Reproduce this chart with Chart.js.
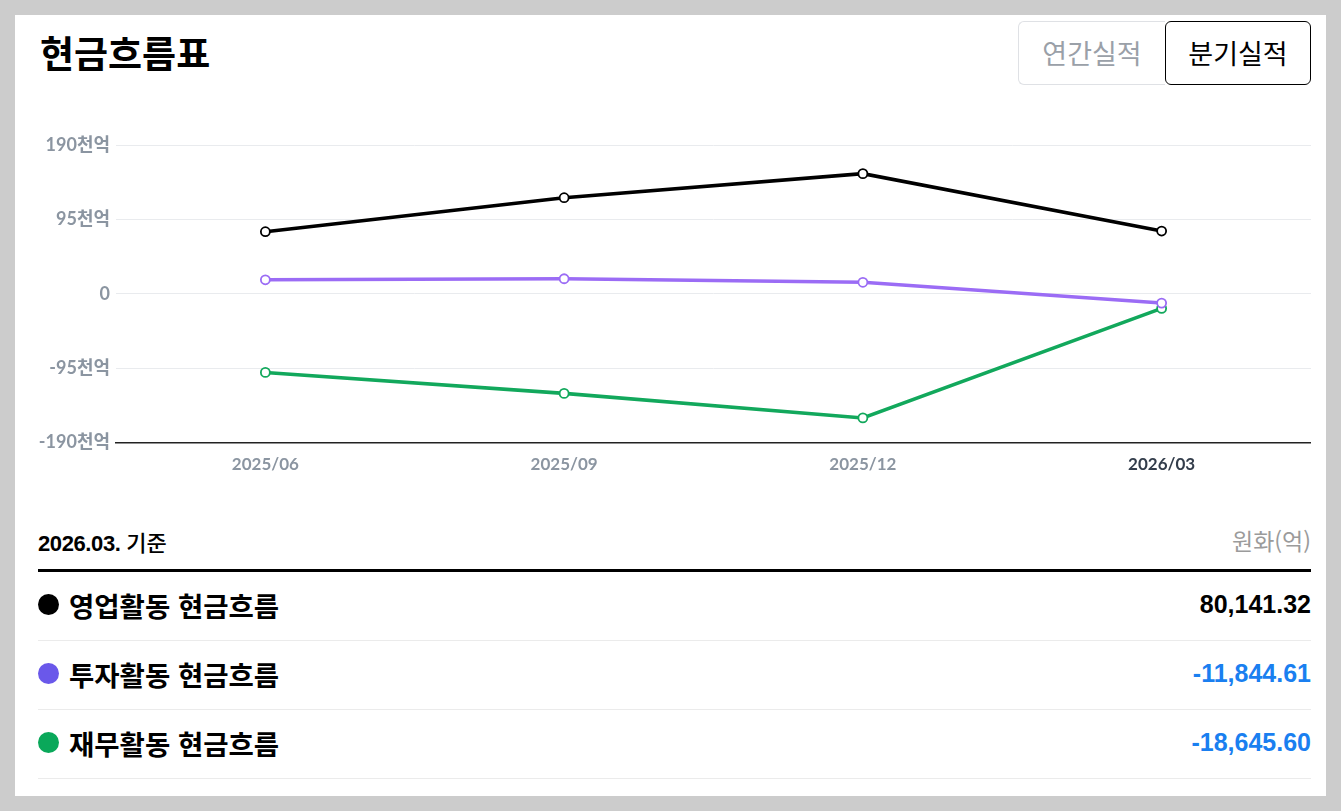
<!DOCTYPE html>
<html lang="ko">
<head>
<meta charset="utf-8">
<script src="https://cdn.jsdelivr.net/npm/chart.js@4/dist/chart.umd.min.js"></script>
<style>
  html, body { margin: 0; padding: 0; background: #cccccc; }
  body { width: 1341px; height: 811px; position: relative; overflow: hidden;
         font-family: "Liberation Sans", "Noto Sans CJK KR", sans-serif; }
  .card { position: absolute; left: 15px; top: 15px; width: 1311px; height: 781px; background: #fff; }
  .title { position: absolute; left: 25px; top: 19px; font-size: 37px; line-height: 37px; font-weight: 700; color: #000;
           font-family: "Noto Sans CJK KR", sans-serif; }
  .tabs { position: absolute; left: 1003px; top: 6px; height: 64px; display: flex; }
  .tab { box-sizing: border-box; height: 64px; width: 147px; display: flex; align-items: center; justify-content: center;
         font-size: 27px; font-family: "Noto Sans CJK KR", sans-serif; padding-bottom: 2px; }
  .tab.off { color: #9aa0a8; border: 1px solid #dfe1e5; border-right: none; border-radius: 6px 0 0 6px; }
  .tab.on { color: #000; border: 1px solid #000; border-radius: 6px; width: 146px; }
  .chartbox { position: absolute; left: 23px; top: 110px; width: 1273px; height: 375px; }
  .basis { position: absolute; left: 23px; top: 513px; font-size: 22px; line-height: 26px; color: #000; font-weight: 700; letter-spacing: -0.4px; }
  .basis .k { font-weight: 500; font-family: "Noto Sans CJK KR", sans-serif; letter-spacing: 0; }
  .unit { position: absolute; right: 15px; top: 510px; font-size: 23px; line-height: 30px; color: #9b9b9b;
          font-family: "Noto Sans CJK KR", sans-serif; }
  .thick { position: absolute; left: 23px; top: 554px; width: 1273px; height: 3px; background: #000; }
  .rows { position: absolute; left: 23px; top: 557px; width: 1273px; }
  .row { height: 69px; border-bottom: 1px solid #ebebeb; display: flex; align-items: center; justify-content: space-between; box-sizing: border-box; padding-bottom: 3px; }
  .row .lab { display: flex; align-items: center; font-size: 27.5px; font-weight: 700; color: #000;
              font-family: "Noto Sans CJK KR", sans-serif; }
  .row .dot { width: 21px; height: 21px; border-radius: 50%; margin-right: 10px; }
  .row .val { font-size: 25px; font-weight: 700; font-family: "Liberation Sans", sans-serif; }
</style>
</head>
<body>
<div class="card">
  <div class="title">현금흐름표</div>
  <div class="tabs"><div class="tab off">연간실적</div><div class="tab on">분기실적</div></div>
  <div class="chartbox"><canvas id="c"></canvas></div>
  <div class="basis">2026.03. <span class="k">기준</span></div>
  <div class="unit">원화(억)</div>
  <div class="thick"></div>
  <div class="rows" id="rows"></div>
</div>
<script>
// ---- data (unit: 억원) ----
const categories = ["2025/06", "2025/09", "2025/12", "2026/03"];
const operatingCF = [79300, 122700, 153400, 80141.32];
const investingCF = [17900, 19200, 14700, -11844.61];
const financingCF = [-100400, -127200, -158500, -18645.60];
const yTickValues = [-190000, -95000, 0, 95000, 190000];
const seriesNames = ["영업활동 현금흐름", "투자활동 현금흐름", "재무활동 현금흐름"];
const lineColors = ["#000000", "#9b6cf5", "#12a85c"];
const dotColors = ["#000000", "#6a58ea", "#0aa85a"];

function tickLabel(v) {
  if (v === 0) return "0";
  return (v / 1000) + "천억";
}

function mk(label, data, color) {
  return {
    label, data,
    borderColor: color, backgroundColor: "#ffffff",
    borderWidth: 3.6, tension: 0,
    pointRadius: 4.5, pointHoverRadius: 4.5,
    pointBackgroundColor: "#ffffff", pointBorderColor: color, pointBorderWidth: 1.8
  };
}

new Chart(document.getElementById("c"), {
  type: "line",
  data: {
    labels: categories,
    datasets: [
      mk(seriesNames[0], operatingCF, lineColors[0]),
      mk(seriesNames[1], investingCF, lineColors[1]),
      mk(seriesNames[2], financingCF, lineColors[2])
    ]
  },
  options: {
    responsive: true, maintainAspectRatio: false, animation: false,
    layout: { autoPadding: false, padding: { top: 20, bottom: 13, right: 0, left: 0 } },
    plugins: { legend: { display: false }, tooltip: { enabled: false } },
    scales: {
      x: {
        offset: true,
        grid: { display: false, drawTicks: false },
        border: { display: true, color: "#222", width: 1.5 },
        ticks: {
          padding: 12,
          font: { family: "Lato, 'Noto Sans CJK KR'", size: 17, weight: "bold" },
          color: (ctx) => ctx.index === categories.length - 1 ? "#333d4b" : "#8b95a1"
        }
      },
      y: {
        min: -190000, max: 190000,
        afterBuildTicks: (axis) => { axis.ticks = yTickValues.map(v => ({ value: v })); },
        afterFit: (axis) => { axis.width = 78; },
        grid: { color: "#e9ebee", lineWidth: 1, drawTicks: false },
        border: { display: false },
        ticks: {
          padding: 6,
          font: { family: "Lato, 'Noto Sans CJK KR'", size: 18, weight: "bold" },
          color: "#8b95a1",
          callback: (v) => tickLabel(v)
        }
      }
    }
  }
});

// ---- summary table (latest quarter) ----
const last = categories.length - 1;
const latest = [operatingCF[last], investingCF[last], financingCF[last]];
const rows = document.getElementById("rows");
latest.forEach((v, i) => {
  const r = document.createElement("div");
  r.className = "row";
  const txt = v.toLocaleString("en-US", { minimumFractionDigits: 2, maximumFractionDigits: 2 });
  r.innerHTML = '<div class="lab"><span class="dot" style="background:' + dotColors[i] + '"></span>' + seriesNames[i] + '</div>' +
                '<div class="val" style="color:' + (v < 0 ? '#1a7ff0' : '#000') + '">' + txt + '</div>';
  rows.appendChild(r);
});
</script>
</body>
</html>
